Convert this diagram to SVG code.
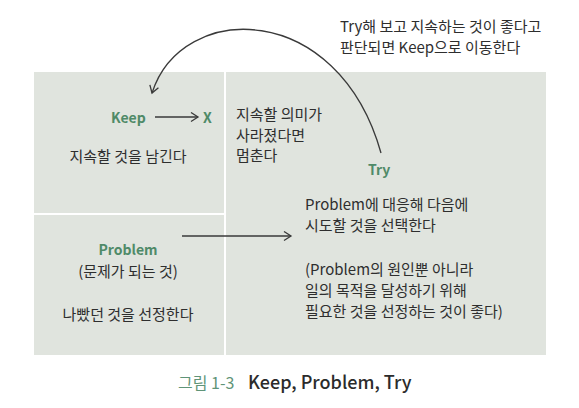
<svg xmlns="http://www.w3.org/2000/svg" width="579" height="408" viewBox="0 0 579 408">
<style>
  .panel { fill: #e0e4de; }
  text { font-family: "Noto Sans CJK KR", "Noto Sans", sans-serif; font-size: 15px; fill: #2e2e2e; }
  .lbl { fill: #4f8a68; font-weight: 600; font-size: 14px; }
  .mid { text-anchor: middle; }
  .conn { fill: none; stroke: #3a3a3a; stroke-width: 1.3; }
  .cap-num { fill: #5f9478; font-size: 16px; }
  .cap-title { font-size: 18px; font-weight: 500; fill: #2b2b2b; }
</style>
<defs>
  <marker id="open" markerUnits="userSpaceOnUse" markerWidth="12" markerHeight="12" refX="8" refY="5" orient="auto">
    <path d="M1,0.5 L8,5 L1,9.5" fill="none" stroke="#3a3a3a" stroke-width="1.3"/>
  </marker>
</defs>
<rect width="579" height="408" fill="#ffffff"/>
<g id="keep">
  <rect class="panel" x="34" y="72" width="190" height="141"/>
  <text class="lbl" x="111" y="123">Keep</text>
  <text class="lbl" x="203" y="123">X</text>
  <text class="mid" x="128" y="162">지속할 것을 남긴다</text>
</g>
<g id="problem">
  <rect class="panel" x="34" y="215" width="190" height="140"/>
  <text class="lbl mid" x="128" y="255">Problem</text>
  <text class="mid" x="128" y="277">(문제가 되는 것)</text>
  <text class="mid" x="128" y="320">나빴던 것을 선정한다</text>
</g>
<g id="try">
  <rect class="panel" x="226" y="72" width="320" height="283"/>
  <text x="236" y="120">지속할 의미가</text>
  <text x="236" y="141">사라졌다면</text>
  <text x="236" y="161">멈춘다</text>
  <text class="lbl" x="368" y="175">Try</text>
  <text x="305" y="210">Problem에 대응해 다음에</text>
  <text x="305" y="231">시도할 것을 선택한다</text>
  <text x="305" y="275">(Problem의 원인뿐 아니라</text>
  <text x="305" y="296">일의 목적을 달성하기 위해</text>
  <text x="305" y="317">필요한 것을 선정하는 것이 좋다)</text>
</g>
<g id="note">
  <text x="340" y="32">Try해 보고 지속하는 것이 좋다고</text>
  <text x="340" y="53">판단되면 Keep으로 이동한다</text>
</g>
<g id="connectors">
  <path class="conn" d="M155,117 L198,117" marker-end="url(#open)"/>
  <path class="conn" d="M182,236 L291,236" marker-end="url(#open)"/>
  <path class="conn" d="M381,153 C338,0 182,0 152,93" marker-end="url(#open)"/>
</g>
<g id="caption">
  <text class="cap-num" x="178" y="389">그림 1-3</text>
  <text class="cap-title" x="248" y="389">Keep, Problem, Try</text>
</g>
</svg>
